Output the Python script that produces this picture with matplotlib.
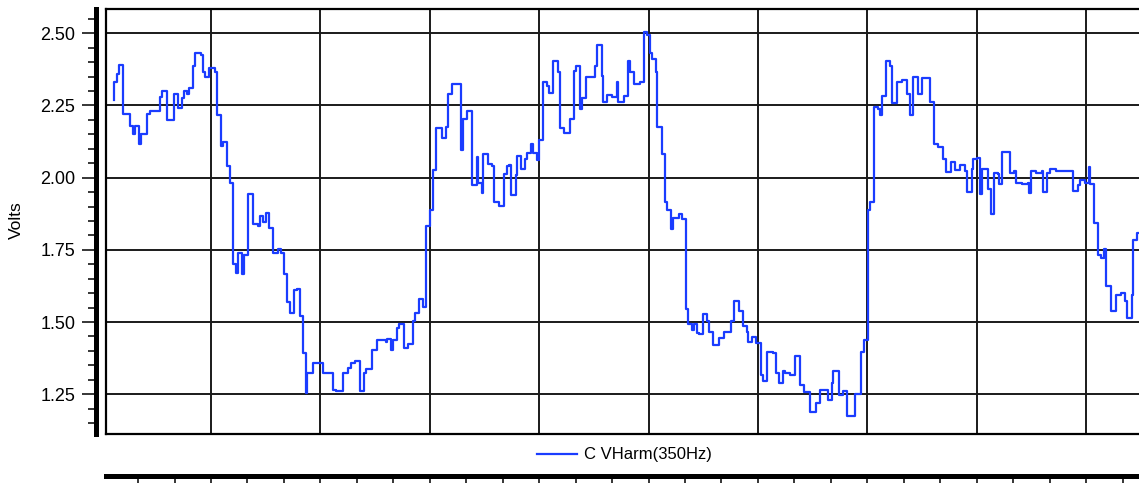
import matplotlib.pyplot as plt
import numpy as np

plt.rcParams['font.family'] = ['Liberation Sans', 'DejaVu Sans']

# time (minutes) at which each reading starts, and the reading (V)
minutes = [
    3.3, 3.4, 4.3, 4.9, 6.0, 7.8, 8.7, 9.25, 10.3, 10.8,
    12.4, 13.3, 16.0, 16.6, 17.8, 19.85, 20.9, 22.0, 22.7, 23.5,
    24.1, 25.15, 25.7, 27.2, 27.8, 28.45, 29.5, 31.1, 31.55, 32.65,
    33.4, 34.3, 35.2, 35.9, 36.85, 37.4, 38.4, 39.05, 40.25, 41.6,
    43.0, 43.45, 44.35, 45.0, 46.0, 47.1, 48.45, 49.1, 50.1, 50.75,
    51.65, 52.85, 53.5, 54.4, 55.1, 56.0, 56.4, 58.1, 60.6, 63.4,
    64.3, 66.1, 67.7, 68.3, 69.5, 70.9, 72.05, 72.5, 74.1, 75.6,
    78.0, 78.35, 79.3, 80.0, 80.9, 81.55, 82.9, 84.1, 85.5, 85.95,
    87.0, 88.2, 88.9, 90.05, 91.0, 91.7, 93.25, 94.35, 94.9, 96.0,
    98.55, 99.2, 100.1, 101.65, 102.85, 103.3, 104.2, 104.7, 106.05, 106.95,
    107.6, 109.05, 110.35, 111.1, 111.8, 112.2, 113.65, 114.0, 114.9, 116.1,
    116.55, 117.75, 118.4, 119.3, 119.95, 120.95, 122.05, 122.8, 123.9, 125.25,
    125.7, 126.8, 128.45, 129.55, 130.0, 131.2, 131.65, 132.75, 135.3, 135.95,
    137.1, 137.4, 138.7, 139.9, 141.25, 141.7, 143.25, 144.25, 144.9, 146.1,
    147.65, 148.75, 149.5, 150.4, 150.85, 151.95, 152.4, 153.6, 154.5, 154.95,
    156.05, 156.6, 158.35, 159.25, 160.15, 160.9, 161.8, 162.45, 163.35, 163.9,
    165.0, 166.1, 166.65, 167.55, 169.3, 170.75, 172.5, 173.4, 174.9, 175.9,
    176.9, 177.35, 178.25, 179.45, 180.75, 181.45, 182.55, 184.2, 184.95, 185.75,
    186.75, 187.4, 188.75, 190.15, 191.5, 192.6, 194.25, 195.9, 197.0, 199.1,
    200.2, 200.65, 202.2, 203.2, 204.3, 206.6, 208.15, 209.05, 210.05, 210.7,
    211.8, 213.0, 213.45, 213.9, 215.0, 216.2, 216.65, 218.2, 219.4, 220.75,
    221.7, 222.4, 223.95, 224.9, 227.15, 228.35, 229.45, 230.65, 231.45, 232.85,
    234.0, 235.4, 236.75, 237.2, 238.6, 239.05, 240.15, 240.85, 241.35, 243.15,
    244.05, 244.8, 245.7, 246.2, 246.8, 249.1, 250.3, 250.75, 252.3, 254.15,
    254.4, 254.85, 256.25, 257.8, 258.05, 259.15, 260.05, 261.7, 266.45, 267.65,
    268.3, 269.65, 270.85, 271.2, 272.15, 273.3, 274.05, 274.9, 275.4, 276.7,
    278.15, 279.45, 280.65, 281.3, 282.45, 282.9, 283.85,
]
volts = [
    2.27, 2.33, 2.36, 2.39, 2.22, 2.18, 2.15, 2.18, 2.115, 2.15,
    2.22, 2.23, 2.28, 2.30, 2.20, 2.29, 2.24, 2.275, 2.30, 2.29,
    2.31, 2.385, 2.433, 2.425, 2.367, 2.35, 2.38, 2.367, 2.217, 2.11,
    2.125, 2.04, 1.983, 1.70, 1.67, 1.74, 1.666, 1.732, 1.943, 1.84,
    1.833, 1.867, 1.848, 1.876, 1.827, 1.74, 1.752, 1.74, 1.666, 1.57,
    1.53, 1.611, 1.613, 1.521, 1.391, 1.253, 1.322, 1.359, 1.324, 1.264,
    1.262, 1.324, 1.340, 1.359, 1.365, 1.262, 1.322, 1.336, 1.403, 1.438,
    1.432, 1.440, 1.403, 1.438, 1.478, 1.493, 1.409, 1.424, 1.505, 1.530,
    1.580, 1.553, 1.834, 1.888, 2.027, 2.173, 2.136, 2.177, 2.290, 2.324,
    2.096, 2.203, 2.231, 1.975, 2.070, 1.980, 1.948, 2.082, 2.046, 2.040,
    1.917, 1.902, 2.012, 2.040, 2.044, 1.940, 2.009, 2.075, 2.029, 2.064,
    2.084, 2.117, 2.084, 2.061, 2.130, 2.333, 2.318, 2.292, 2.405, 2.367,
    2.171, 2.156, 2.203, 2.371, 2.385, 2.238, 2.275, 2.348, 2.385, 2.460,
    2.352, 2.263, 2.286, 2.278, 2.333, 2.263, 2.284, 2.405, 2.367, 2.324,
    2.333, 2.506, 2.494, 2.433, 2.411, 2.367, 2.177, 2.082, 1.917, 1.888,
    1.821, 1.859, 1.874, 1.856, 1.545, 1.493, 1.474, 1.493, 1.463, 1.457,
    1.527, 1.505, 1.464, 1.420, 1.446, 1.467, 1.505, 1.573, 1.539, 1.486,
    1.464, 1.432, 1.447, 1.426, 1.316, 1.296, 1.397, 1.391, 1.322, 1.289,
    1.331, 1.322, 1.316, 1.383, 1.281, 1.257, 1.189, 1.218, 1.264, 1.230,
    1.289, 1.332, 1.247, 1.262, 1.176, 1.249, 1.397, 1.438, 1.888, 1.917,
    2.244, 2.237, 2.217, 2.283, 2.404, 2.385, 2.257, 2.333, 2.338, 2.290,
    2.217, 2.350, 2.290, 2.344, 2.263, 2.117, 2.105, 2.064, 2.021, 2.053,
    2.027, 2.044, 2.024, 1.949, 2.029, 2.064, 2.069, 1.943, 2.029, 1.961,
    1.874, 2.017, 2.013, 1.977, 2.090, 2.017, 2.023, 1.983, 1.977, 1.983,
    1.948, 2.024, 2.017, 2.023, 1.949, 2.017, 2.029, 2.024, 1.955, 1.975,
    1.992, 1.983, 2.036, 1.977, 1.842, 1.732, 1.721, 1.752, 1.626, 1.539,
    1.593, 1.599, 1.573, 1.513, 1.594, 1.784, 1.807,
]
series_name = 'C VHarm(350Hz)'
y_ticks = [1.25, 1.50, 1.75, 2.00, 2.25, 2.50]

x_min, x_max = 1.12, 290
y_min, y_max = 1.111, 2.583

fig = plt.figure(figsize=(11.39, 4.83), dpi=100)
pos = [0.0928, 0.1008, 0.9248, 0.8799]

# plot area with frame and grid
ax = fig.add_axes(pos)
t = np.append(minutes, x_max)
v = np.append(volts, volts[-1])
line, = ax.step(t, v, where='post', color='#1a3cff', lw=1.6, label=series_name, zorder=3)
ax.set_xlim(x_min, x_max)
ax.set_ylim(y_min, y_max)
ax.set_xticks(np.arange(30, x_max, 30))
ax.set_yticks(y_ticks)
ax.grid(True, color='#1a1a1a', lw=1.4)
ax.tick_params(length=0, labelbottom=False, labelleft=False)
for s in ax.spines.values():
    s.set_linewidth(1.6)

# detached axis lines (thick) on the left and bottom
axa = fig.add_axes(pos)
axa.patch.set_visible(False)
axa.set_xlim(x_min, x_max)
axa.set_ylim(y_min, y_max)
axa.spines['top'].set_visible(False)
axa.spines['right'].set_visible(False)
axa.spines['left'].set_position(('outward', 7))
axa.spines['left'].set_linewidth(3.6)
axa.spines['bottom'].set_position(('outward', 29.7))
axa.spines['bottom'].set_linewidth(3.6)
axa.set_yticks(y_ticks)
axa.set_yticklabels([f'{y:.2f}' for y in y_ticks])
axa.set_yticks(np.arange(1.15, 2.56, 0.05), minor=True)
axa.set_xticks(np.arange(10, x_max, 10))
axa.tick_params(axis='y', which='major', length=10, width=1.1, labelsize=13, pad=5)
axa.tick_params(axis='y', which='minor', length=5.8, width=1.1)
axa.tick_params(axis='x', length=8, width=1.1, labelbottom=False)

fig.text(0.0145, 0.545, 'Volts', rotation=90, ha='center', va='center', fontsize=12.5)
fig.legend(handles=[line], loc='center', bbox_to_anchor=(0.548, 0.058), frameon=False,
           fontsize=12, handlelength=2.4, handletextpad=0.4)

fig.savefig('out.png', dpi=100)
